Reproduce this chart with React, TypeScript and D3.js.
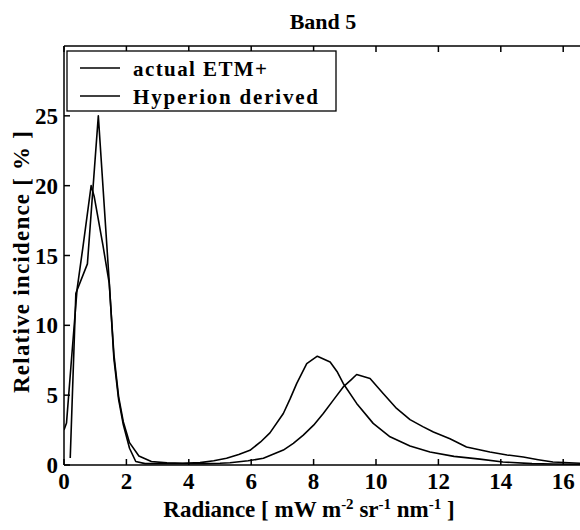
import React from 'react';
import * as d3 from 'd3';

const xTicks = [0, 2, 4, 6, 8, 10, 12, 14, 16];
const yTicks = [0, 5, 10, 15, 20, 25];
const seriesNames = ['actual ETM+', 'Hyperion derived'];

const etmX = [0.2, 0.38, 0.75, 1.1, 1.45, 1.6, 1.75, 1.9, 2.1, 2.3, 2.6, 3.0, 3.5, 4.0, 4.5, 5.0, 5.32, 5.9, 6.39, 7.03, 7.35, 7.67, 8.0, 8.31, 8.65, 8.95, 9.2, 9.38, 9.81, 10.23, 10.66, 10.9, 11.09, 11.5, 11.84, 12.37, 12.9, 13.65, 14.2, 14.72, 15.2, 15.67, 16.6];
const etmY = [0.5, 12.3, 14.4, 25.0, 13.1, 7.6, 4.7, 2.9, 1.2, 0.25, 0.1, 0.1, 0.1, 0.1, 0.1, 0.12, 0.16, 0.3, 0.48, 1.07, 1.55, 2.14, 2.85, 3.69, 4.7, 5.59, 6.1, 6.48, 6.19, 5.12, 4.05, 3.6, 3.25, 2.75, 2.36, 1.88, 1.29, 0.93, 0.72, 0.57, 0.38, 0.21, 0.12];

const hypX = [0.0, 0.08, 0.22, 0.42, 0.6, 0.87, 0.97, 1.25, 1.45, 1.6, 1.75, 1.9, 2.1, 2.4, 2.8, 3.3, 3.8, 4.36, 4.8, 5.21, 5.6, 5.96, 6.3, 6.6, 7.03, 7.25, 7.46, 7.78, 8.12, 8.53, 8.75, 8.95, 9.38, 9.91, 10.45, 11.09, 11.73, 12.5, 13.33, 14.07, 15.0, 15.67, 16.6];
const hypY = [2.5, 3.0, 7.0, 12.6, 15.5, 20.0, 19.2, 15.7, 13.0, 7.9, 4.9, 3.1, 1.6, 0.65, 0.25, 0.15, 0.12, 0.17, 0.3, 0.48, 0.75, 1.05, 1.65, 2.3, 3.69, 4.75, 5.84, 7.26, 7.79, 7.38, 6.7, 5.84, 4.41, 2.98, 2.02, 1.36, 0.93, 0.62, 0.42, 0.22, 0.1, 0.07, 0.05];

const W = 580;
const H = 530;
const left = 64;
const top = 46;
const bottom = 465;
const xMax = 16.6;

export default function App() {
  const x = d3.scaleLinear().domain([0, xMax]).range([left, left + xMax * 31.2]);
  const y = d3.scaleLinear().domain([0, 30]).range([bottom, top]);
  const line = d3
    .line<[number, number]>()
    .x((d) => x(d[0]))
    .y((d) => y(d[1]))
    .curve(d3.curveLinear);
  const etm = etmX.map((v, i) => [v, etmY[i]] as [number, number]);
  const hyp = hypX.map((v, i) => [v, hypY[i]] as [number, number]);
  const right = W + 2;
  const tf = { fontFamily: '"Liberation Serif"' };

  return (
    <svg width={W} height={H} fontFamily="Liberation Serif" style={{ position: 'absolute', left: 0, top: 0, background: '#fff', fontFamily: '"Liberation Serif"' }}>
      <defs>
        <clipPath id="plot">
          <rect x={left} y={top} width={right - left} height={bottom - top} />
        </clipPath>
      </defs>
      <text x={323} y={29} textAnchor="middle" fontSize={22} fontWeight="bold" style={tf}>Band 5</text>

      <g clipPath="url(#plot)" fill="none" stroke="#000" strokeWidth={1.6} strokeLinejoin="round">
        <path d={line(etm) || ''} />
        <path d={line(hyp) || ''} />
      </g>

      <g stroke="#000" strokeWidth={1.5} fill="none">
        <line x1={left} y1={top} x2={right} y2={top} />
        <line x1={left} y1={top} x2={left} y2={bottom} />
        <line x1={left} y1={bottom} x2={right} y2={bottom} />
        {xTicks.map((t) => (
          <g key={'xt' + t}>
            <line x1={x(t)} x2={x(t)} y1={bottom} y2={bottom - 6} />
            <line x1={x(t)} x2={x(t)} y1={top} y2={top + 6} />
          </g>
        ))}
        {yTicks.map((t) => (
          <line key={'yt' + t} x1={left} x2={left + 6} y1={y(t)} y2={y(t)} />
        ))}
      </g>

      {xTicks.map((t) => (
        <text key={'xl' + t} x={x(t)} y={489} textAnchor="middle" fontSize={23} fontWeight="bold" style={tf}>{t}</text>
      ))}
      {yTicks.map((t) => (
        <text key={'yl' + t} x={58} y={y(t)} dy="0.35em" textAnchor="end" fontSize={23} fontWeight="bold" style={tf}>{t}</text>
      ))}

      <text x={309} y={517} textAnchor="middle" fontSize={23} fontWeight="bold" style={tf}>
        Radiance [ mW m<tspan dy={-8} fontSize={15}>-2</tspan>
        <tspan dy={8}> sr</tspan><tspan dy={-8} fontSize={15}>-1</tspan>
        <tspan dy={8}> nm</tspan><tspan dy={-8} fontSize={15}>-1</tspan>
        <tspan dy={8}> ]</tspan>
      </text>
      <text transform="translate(29,262) rotate(-90)" textAnchor="middle" fontSize={23} fontWeight="bold" style={tf} textLength={262} lengthAdjust="spacing">
        Relative incidence [ % ]
      </text>

      <rect x={67} y={51} width={269} height={60} fill="#fff" stroke="#000" strokeWidth={1.3} />
      {seriesNames.map((n, i) => (
        <g key={n}>
          <line x1={80} x2={120} y1={68 + i * 28} y2={68 + i * 28} stroke="#000" strokeWidth={1.5} />
          <text x={133} y={76 + i * 28} fontSize={21} fontWeight="bold" style={tf} textLength={i === 0 ? 134 : 185} lengthAdjust="spacing">{n}</text>
        </g>
      ))}
    </svg>
  );
}
